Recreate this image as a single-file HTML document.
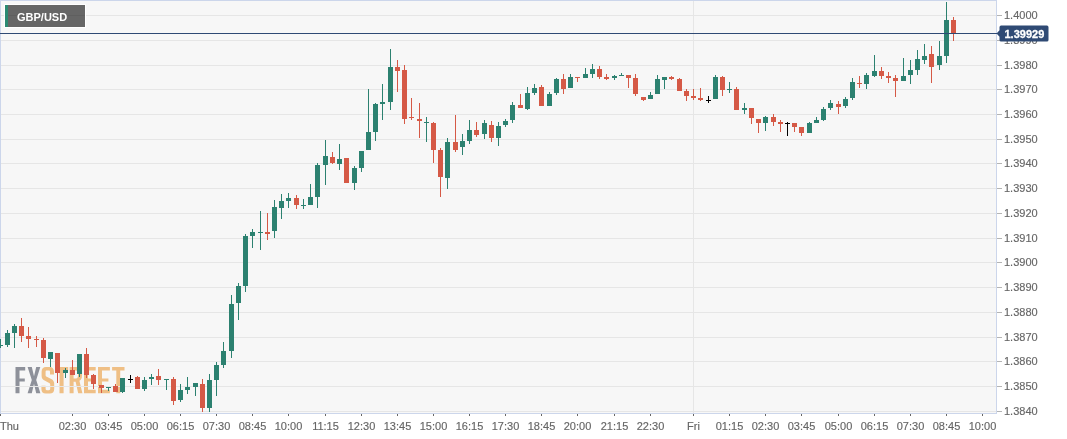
<!DOCTYPE html>
<html><head><meta charset="utf-8"><style>
html,body{margin:0;padding:0;background:#fff;width:1067px;height:439px;overflow:hidden}
svg{display:block}
text{font-family:"Liberation Sans",sans-serif}
svg{will-change:transform}
</style></head><body>
<svg width="1067" height="439" viewBox="0 0 1067 439" shape-rendering="crispEdges"><rect x="0" y="0" width="1067" height="439" fill="#ffffff"/><rect x="0" y="0" width="997" height="414" fill="#f7f7f7"/><path d="M15.5 367 H25.2 V370.5 H19.5 V378.5 H24.8 V381.6 H19.5 V393.2 H15.5 Z" fill="#8e919a" shape-rendering="geometricPrecision"/><path d="M27.6 367 H31.8 L34 376.2 L36.2 367 H40.3 L36.2 380 L40.4 393.2 H36.2 L34 383.8 L31.8 393.2 H27.6 L31.8 380 Z" fill="#8e919a" shape-rendering="geometricPrecision"/><path d="M54 374.6 V371.8 C54 368.6 52.4 367 49.6 367 H46 C43.2 367 41.6 368.6 41.6 371.8 V376 C41.6 378 42.6 379.6 44.6 380.6 L49.6 383.2 C50 383.4 50.2 383.8 50.2 384.4 V388.6 C50.2 389.6 49.8 390.2 48.9 390.2 H46.9 C46 390.2 45.6 389.6 45.6 388.6 V385.8 H41.4 V389 C41.4 392 43 393.6 45.8 393.6 H49.8 C52.6 393.6 54.2 392 54.2 389 V383.6 C54.2 381.6 53.2 380 51.2 379 L46.2 376.4 C45.8 376.2 45.6 375.8 45.6 375.2 V371.8 C45.6 370.8 46 370.4 46.9 370.4 H48.7 C49.6 370.4 50 370.8 50 371.8 V374.6 Z" fill="#efbf85" shape-rendering="geometricPrecision"/><path d="M55.3 367 H68.2 V370.5 H63.6 V393.2 H59.5 V370.5 H55.3 Z" fill="#efbf85" shape-rendering="geometricPrecision"/><path d="M69.6 367 H76.5 C80.6 367 82 369 82 373.4 V375.6 C82 378.4 81.2 380 79.4 380.8 L82.4 393.2 H78.2 L75.6 381.8 H73.6 V393.2 H69.6 Z M73.6 370.5 V378.4 H75.8 C77.4 378.4 78 377.6 78 375.6 V373.2 C78 371.2 77.4 370.5 75.8 370.5 Z" fill="#efbf85" shape-rendering="geometricPrecision"/><path d="M84 367 H95.7 V370.5 H88 V378.6 H95 V381.6 H88 V389.8 H95.7 V393.2 H84 Z" fill="#efbf85" shape-rendering="geometricPrecision"/><path d="M98 367 H109.9 V370.5 H102 V378.6 H108.4 V381.6 H102 V389.8 H109.9 V393.2 H98 Z" fill="#efbf85" shape-rendering="geometricPrecision"/><path d="M112.1 367 H124.5 V370.5 H120.2 V393.2 H116.3 V370.5 H112.1 Z" fill="#efbf85" shape-rendering="geometricPrecision"/><rect x="1" y="15" width="995" height="1" fill="#e6e6e6"/><rect x="1" y="40" width="995" height="1" fill="#e6e6e6"/><rect x="1" y="65" width="995" height="1" fill="#e6e6e6"/><rect x="1" y="89" width="995" height="1" fill="#e6e6e6"/><rect x="1" y="114" width="995" height="1" fill="#e6e6e6"/><rect x="1" y="139" width="995" height="1" fill="#e6e6e6"/><rect x="1" y="163" width="995" height="1" fill="#e6e6e6"/><rect x="1" y="188" width="995" height="1" fill="#e6e6e6"/><rect x="1" y="213" width="995" height="1" fill="#e6e6e6"/><rect x="1" y="238" width="995" height="1" fill="#e6e6e6"/><rect x="1" y="262" width="995" height="1" fill="#e6e6e6"/><rect x="1" y="287" width="995" height="1" fill="#e6e6e6"/><rect x="1" y="312" width="995" height="1" fill="#e6e6e6"/><rect x="1" y="337" width="995" height="1" fill="#e6e6e6"/><rect x="1" y="361" width="995" height="1" fill="#e6e6e6"/><rect x="1" y="386" width="995" height="1" fill="#e6e6e6"/><rect x="1" y="411" width="995" height="1" fill="#e6e6e6"/><rect x="693" y="1" width="1" height="412" fill="#e6e6e6"/><rect x="0" y="0" width="997" height="1" fill="#ccd6eb"/><rect x="0" y="0" width="1" height="414" fill="#ccd6eb"/><rect x="996" y="0" width="1" height="414" fill="#ccd6eb"/><rect x="0" y="413" width="997" height="1" fill="#ccd6eb"/><rect x="0" y="339" width="1" height="9" fill="#2c8170"/><rect x="1" y="345" width="2" height="1" fill="#2c8170"/><rect x="7" y="330" width="1" height="17" fill="#2c8170"/><rect x="5" y="333" width="5" height="12" fill="#2c8170"/><rect x="14" y="324" width="1" height="24" fill="#2c8170"/><rect x="12" y="326" width="5" height="7" fill="#2c8170"/><rect x="21" y="318" width="1" height="24" fill="#d55946"/><rect x="19" y="326" width="5" height="10" fill="#d55946"/><rect x="28" y="327" width="1" height="21" fill="#d55946"/><rect x="26" y="336" width="5" height="3" fill="#d55946"/><rect x="36" y="336" width="1" height="11" fill="#d55946"/><rect x="34" y="339" width="5" height="1" fill="#d55946"/><rect x="43" y="338" width="1" height="25" fill="#d55946"/><rect x="41" y="340" width="5" height="18" fill="#d55946"/><rect x="50" y="352" width="1" height="15" fill="#2c8170"/><rect x="48" y="352" width="5" height="7" fill="#2c8170"/><rect x="57" y="353" width="1" height="30" fill="#d55946"/><rect x="55" y="353" width="5" height="20" fill="#d55946"/><rect x="65" y="368" width="1" height="10" fill="#2c8170"/><rect x="63" y="370" width="5" height="3" fill="#2c8170"/><rect x="72" y="360" width="1" height="15" fill="#d55946"/><rect x="70" y="370" width="5" height="5" fill="#d55946"/><rect x="79" y="354" width="1" height="23" fill="#2c8170"/><rect x="77" y="354" width="5" height="20" fill="#2c8170"/><rect x="86" y="348" width="1" height="30" fill="#d55946"/><rect x="84" y="354" width="5" height="21" fill="#d55946"/><rect x="93" y="374" width="1" height="15" fill="#d55946"/><rect x="91" y="375" width="5" height="9" fill="#d55946"/><rect x="101" y="385" width="1" height="8" fill="#d55946"/><rect x="99" y="385" width="5" height="3" fill="#d55946"/><rect x="108" y="387" width="1" height="4" fill="#2c8170"/><rect x="106" y="387" width="5" height="1" fill="#2c8170"/><rect x="115" y="384" width="1" height="8" fill="#d55946"/><rect x="113" y="386" width="5" height="6" fill="#d55946"/><rect x="122" y="378" width="1" height="15" fill="#2c8170"/><rect x="120" y="378" width="5" height="14" fill="#2c8170"/><rect x="130" y="375" width="1" height="8" fill="#000000"/><rect x="128" y="379" width="5" height="1" fill="#000000"/><rect x="137" y="376" width="1" height="13" fill="#d55946"/><rect x="135" y="377" width="5" height="12" fill="#d55946"/><rect x="144" y="377" width="1" height="14" fill="#2c8170"/><rect x="142" y="380" width="5" height="9" fill="#2c8170"/><rect x="151" y="374" width="1" height="11" fill="#2c8170"/><rect x="149" y="377" width="5" height="2" fill="#2c8170"/><rect x="158" y="369" width="1" height="16" fill="#d55946"/><rect x="156" y="376" width="5" height="4" fill="#d55946"/><rect x="166" y="379" width="1" height="11" fill="#2c8170"/><rect x="164" y="379" width="5" height="1" fill="#2c8170"/><rect x="173" y="377" width="1" height="28" fill="#d55946"/><rect x="171" y="379" width="5" height="22" fill="#d55946"/><rect x="180" y="384" width="1" height="18" fill="#2c8170"/><rect x="178" y="390" width="5" height="10" fill="#2c8170"/><rect x="187" y="377" width="1" height="17" fill="#2c8170"/><rect x="185" y="387" width="5" height="3" fill="#2c8170"/><rect x="195" y="383" width="1" height="13" fill="#2c8170"/><rect x="193" y="383" width="5" height="4" fill="#2c8170"/><rect x="202" y="379" width="1" height="33" fill="#d55946"/><rect x="200" y="384" width="5" height="24" fill="#d55946"/><rect x="209" y="374" width="1" height="38" fill="#2c8170"/><rect x="207" y="380" width="5" height="28" fill="#2c8170"/><rect x="216" y="362" width="1" height="34" fill="#2c8170"/><rect x="214" y="365" width="5" height="15" fill="#2c8170"/><rect x="223" y="342" width="1" height="26" fill="#2c8170"/><rect x="221" y="351" width="5" height="14" fill="#2c8170"/><rect x="231" y="295" width="1" height="63" fill="#2c8170"/><rect x="229" y="304" width="5" height="47" fill="#2c8170"/><rect x="238" y="283" width="1" height="37" fill="#2c8170"/><rect x="236" y="286" width="5" height="17" fill="#2c8170"/><rect x="245" y="234" width="1" height="58" fill="#2c8170"/><rect x="243" y="236" width="5" height="50" fill="#2c8170"/><rect x="252" y="229" width="1" height="19" fill="#2c8170"/><rect x="250" y="232" width="5" height="4" fill="#2c8170"/><rect x="260" y="211" width="1" height="39" fill="#2c8170"/><rect x="258" y="232" width="5" height="1" fill="#2c8170"/><rect x="267" y="213" width="1" height="27" fill="#d55946"/><rect x="265" y="232" width="5" height="2" fill="#d55946"/><rect x="274" y="200" width="1" height="38" fill="#2c8170"/><rect x="272" y="207" width="5" height="24" fill="#2c8170"/><rect x="281" y="194" width="1" height="25" fill="#2c8170"/><rect x="279" y="201" width="5" height="7" fill="#2c8170"/><rect x="288" y="193" width="1" height="15" fill="#2c8170"/><rect x="286" y="198" width="5" height="3" fill="#2c8170"/><rect x="296" y="195" width="1" height="14" fill="#d55946"/><rect x="294" y="198" width="5" height="7" fill="#d55946"/><rect x="303" y="199" width="1" height="10" fill="#2c8170"/><rect x="301" y="205" width="5" height="1" fill="#2c8170"/><rect x="310" y="184" width="1" height="21" fill="#2c8170"/><rect x="308" y="197" width="5" height="8" fill="#2c8170"/><rect x="317" y="163" width="1" height="45" fill="#2c8170"/><rect x="315" y="165" width="5" height="32" fill="#2c8170"/><rect x="325" y="140" width="1" height="45" fill="#2c8170"/><rect x="323" y="156" width="5" height="9" fill="#2c8170"/><rect x="332" y="152" width="1" height="12" fill="#d55946"/><rect x="330" y="157" width="5" height="6" fill="#d55946"/><rect x="339" y="144" width="1" height="26" fill="#2c8170"/><rect x="337" y="159" width="5" height="5" fill="#2c8170"/><rect x="346" y="158" width="1" height="25" fill="#d55946"/><rect x="344" y="158" width="5" height="25" fill="#d55946"/><rect x="354" y="166" width="1" height="24" fill="#2c8170"/><rect x="352" y="168" width="5" height="15" fill="#2c8170"/><rect x="361" y="151" width="1" height="21" fill="#2c8170"/><rect x="359" y="151" width="5" height="17" fill="#2c8170"/><rect x="368" y="89" width="1" height="61" fill="#2c8170"/><rect x="366" y="132" width="5" height="18" fill="#2c8170"/><rect x="375" y="103" width="1" height="38" fill="#2c8170"/><rect x="373" y="104" width="5" height="28" fill="#2c8170"/><rect x="382" y="84" width="1" height="36" fill="#2c8170"/><rect x="380" y="102" width="5" height="2" fill="#2c8170"/><rect x="390" y="49" width="1" height="61" fill="#2c8170"/><rect x="388" y="67" width="5" height="35" fill="#2c8170"/><rect x="397" y="60" width="1" height="32" fill="#d55946"/><rect x="395" y="67" width="5" height="4" fill="#d55946"/><rect x="404" y="65" width="1" height="59" fill="#d55946"/><rect x="402" y="70" width="5" height="49" fill="#d55946"/><rect x="411" y="98" width="1" height="22" fill="#d55946"/><rect x="409" y="117" width="5" height="1" fill="#d55946"/><rect x="419" y="103" width="1" height="35" fill="#d55946"/><rect x="417" y="119" width="5" height="2" fill="#d55946"/><rect x="426" y="117" width="1" height="25" fill="#2c8170"/><rect x="424" y="122" width="5" height="1" fill="#2c8170"/><rect x="433" y="122" width="1" height="41" fill="#d55946"/><rect x="431" y="123" width="5" height="27" fill="#d55946"/><rect x="440" y="148" width="1" height="49" fill="#d55946"/><rect x="438" y="150" width="5" height="27" fill="#d55946"/><rect x="447" y="138" width="1" height="51" fill="#2c8170"/><rect x="445" y="142" width="5" height="36" fill="#2c8170"/><rect x="455" y="115" width="1" height="37" fill="#d55946"/><rect x="453" y="142" width="5" height="8" fill="#d55946"/><rect x="462" y="134" width="1" height="21" fill="#2c8170"/><rect x="460" y="141" width="5" height="6" fill="#2c8170"/><rect x="469" y="120" width="1" height="24" fill="#2c8170"/><rect x="467" y="130" width="5" height="11" fill="#2c8170"/><rect x="476" y="122" width="1" height="15" fill="#d55946"/><rect x="474" y="130" width="5" height="5" fill="#d55946"/><rect x="484" y="120" width="1" height="19" fill="#2c8170"/><rect x="482" y="123" width="5" height="11" fill="#2c8170"/><rect x="491" y="121" width="1" height="21" fill="#d55946"/><rect x="489" y="125" width="5" height="13" fill="#d55946"/><rect x="498" y="122" width="1" height="24" fill="#2c8170"/><rect x="496" y="126" width="5" height="12" fill="#2c8170"/><rect x="505" y="119" width="1" height="8" fill="#2c8170"/><rect x="503" y="121" width="5" height="4" fill="#2c8170"/><rect x="512" y="102" width="1" height="21" fill="#2c8170"/><rect x="510" y="105" width="5" height="15" fill="#2c8170"/><rect x="520" y="94" width="1" height="14" fill="#d55946"/><rect x="518" y="105" width="5" height="3" fill="#d55946"/><rect x="527" y="87" width="1" height="23" fill="#2c8170"/><rect x="525" y="93" width="5" height="16" fill="#2c8170"/><rect x="534" y="84" width="1" height="11" fill="#2c8170"/><rect x="532" y="88" width="5" height="5" fill="#2c8170"/><rect x="541" y="85" width="1" height="21" fill="#d55946"/><rect x="539" y="87" width="5" height="19" fill="#d55946"/><rect x="549" y="92" width="1" height="14" fill="#2c8170"/><rect x="547" y="94" width="5" height="12" fill="#2c8170"/><rect x="556" y="78" width="1" height="17" fill="#2c8170"/><rect x="554" y="79" width="5" height="14" fill="#2c8170"/><rect x="563" y="74" width="1" height="20" fill="#d55946"/><rect x="561" y="79" width="5" height="10" fill="#d55946"/><rect x="570" y="74" width="1" height="14" fill="#2c8170"/><rect x="568" y="77" width="5" height="11" fill="#2c8170"/><rect x="577" y="77" width="1" height="5" fill="#d55946"/><rect x="575" y="77" width="5" height="1" fill="#d55946"/><rect x="585" y="68" width="1" height="10" fill="#2c8170"/><rect x="583" y="74" width="5" height="4" fill="#2c8170"/><rect x="592" y="64" width="1" height="14" fill="#2c8170"/><rect x="590" y="69" width="5" height="5" fill="#2c8170"/><rect x="599" y="66" width="1" height="13" fill="#d55946"/><rect x="597" y="69" width="5" height="8" fill="#d55946"/><rect x="606" y="74" width="1" height="6" fill="#d55946"/><rect x="604" y="77" width="5" height="2" fill="#d55946"/><rect x="614" y="75" width="1" height="5" fill="#2c8170"/><rect x="612" y="76" width="5" height="2" fill="#2c8170"/><rect x="621" y="73" width="1" height="3" fill="#2c8170"/><rect x="619" y="75" width="5" height="1" fill="#2c8170"/><rect x="628" y="75" width="1" height="13" fill="#d55946"/><rect x="626" y="75" width="5" height="3" fill="#d55946"/><rect x="635" y="74" width="1" height="22" fill="#d55946"/><rect x="633" y="78" width="5" height="16" fill="#d55946"/><rect x="643" y="97" width="1" height="4" fill="#d55946"/><rect x="641" y="97" width="5" height="3" fill="#d55946"/><rect x="650" y="92" width="1" height="7" fill="#2c8170"/><rect x="648" y="95" width="5" height="4" fill="#2c8170"/><rect x="657" y="75" width="1" height="19" fill="#2c8170"/><rect x="655" y="79" width="5" height="15" fill="#2c8170"/><rect x="664" y="77" width="1" height="12" fill="#2c8170"/><rect x="662" y="77" width="5" height="3" fill="#2c8170"/><rect x="671" y="76" width="1" height="4" fill="#d55946"/><rect x="669" y="77" width="5" height="2" fill="#d55946"/><rect x="679" y="78" width="1" height="13" fill="#d55946"/><rect x="677" y="79" width="5" height="12" fill="#d55946"/><rect x="686" y="89" width="1" height="12" fill="#d55946"/><rect x="684" y="91" width="5" height="5" fill="#d55946"/><rect x="693" y="89" width="1" height="11" fill="#d55946"/><rect x="691" y="96" width="5" height="2" fill="#d55946"/><rect x="700" y="88" width="1" height="13" fill="#d55946"/><rect x="698" y="98" width="5" height="2" fill="#d55946"/><rect x="708" y="96" width="1" height="7" fill="#000000"/><rect x="706" y="100" width="5" height="1" fill="#000000"/><rect x="715" y="75" width="1" height="24" fill="#2c8170"/><rect x="713" y="77" width="5" height="22" fill="#2c8170"/><rect x="722" y="76" width="1" height="20" fill="#d55946"/><rect x="720" y="77" width="5" height="13" fill="#d55946"/><rect x="729" y="82" width="1" height="11" fill="#2c8170"/><rect x="727" y="89" width="5" height="1" fill="#2c8170"/><rect x="736" y="87" width="1" height="23" fill="#d55946"/><rect x="734" y="89" width="5" height="21" fill="#d55946"/><rect x="744" y="103" width="1" height="11" fill="#2c8170"/><rect x="742" y="108" width="5" height="2" fill="#2c8170"/><rect x="751" y="108" width="1" height="16" fill="#d55946"/><rect x="749" y="108" width="5" height="10" fill="#d55946"/><rect x="758" y="119" width="1" height="14" fill="#d55946"/><rect x="756" y="119" width="5" height="4" fill="#d55946"/><rect x="765" y="116" width="1" height="15" fill="#2c8170"/><rect x="763" y="117" width="5" height="6" fill="#2c8170"/><rect x="773" y="114" width="1" height="12" fill="#d55946"/><rect x="771" y="117" width="5" height="5" fill="#d55946"/><rect x="780" y="120" width="1" height="12" fill="#d55946"/><rect x="778" y="122" width="5" height="2" fill="#d55946"/><rect x="787" y="122" width="1" height="14" fill="#000000"/><rect x="785" y="123" width="5" height="1" fill="#000000"/><rect x="794" y="123" width="1" height="9" fill="#d55946"/><rect x="792" y="123" width="5" height="4" fill="#d55946"/><rect x="801" y="127" width="1" height="9" fill="#d55946"/><rect x="799" y="127" width="5" height="6" fill="#d55946"/><rect x="809" y="122" width="1" height="11" fill="#2c8170"/><rect x="807" y="123" width="5" height="10" fill="#2c8170"/><rect x="816" y="117" width="1" height="6" fill="#2c8170"/><rect x="814" y="120" width="5" height="3" fill="#2c8170"/><rect x="823" y="107" width="1" height="14" fill="#2c8170"/><rect x="821" y="109" width="5" height="11" fill="#2c8170"/><rect x="830" y="100" width="1" height="10" fill="#2c8170"/><rect x="828" y="103" width="5" height="5" fill="#2c8170"/><rect x="838" y="101" width="1" height="13" fill="#d55946"/><rect x="836" y="104" width="5" height="3" fill="#d55946"/><rect x="845" y="97" width="1" height="11" fill="#2c8170"/><rect x="843" y="99" width="5" height="7" fill="#2c8170"/><rect x="852" y="78" width="1" height="22" fill="#2c8170"/><rect x="850" y="82" width="5" height="16" fill="#2c8170"/><rect x="859" y="76" width="1" height="12" fill="#d55946"/><rect x="857" y="83" width="5" height="1" fill="#d55946"/><rect x="866" y="73" width="1" height="16" fill="#2c8170"/><rect x="864" y="75" width="5" height="9" fill="#2c8170"/><rect x="874" y="55" width="1" height="22" fill="#2c8170"/><rect x="872" y="71" width="5" height="5" fill="#2c8170"/><rect x="881" y="67" width="1" height="12" fill="#d55946"/><rect x="879" y="71" width="5" height="5" fill="#d55946"/><rect x="888" y="72" width="1" height="11" fill="#d55946"/><rect x="886" y="76" width="5" height="2" fill="#d55946"/><rect x="895" y="75" width="1" height="22" fill="#d55946"/><rect x="893" y="78" width="5" height="3" fill="#d55946"/><rect x="903" y="58" width="1" height="23" fill="#2c8170"/><rect x="901" y="76" width="5" height="5" fill="#2c8170"/><rect x="910" y="60" width="1" height="24" fill="#2c8170"/><rect x="908" y="70" width="5" height="5" fill="#2c8170"/><rect x="917" y="50" width="1" height="25" fill="#2c8170"/><rect x="915" y="59" width="5" height="11" fill="#2c8170"/><rect x="924" y="44" width="1" height="20" fill="#2c8170"/><rect x="922" y="56" width="5" height="4" fill="#2c8170"/><rect x="931" y="46" width="1" height="37" fill="#d55946"/><rect x="929" y="54" width="5" height="13" fill="#d55946"/><rect x="939" y="41" width="1" height="29" fill="#2c8170"/><rect x="937" y="56" width="5" height="9" fill="#2c8170"/><rect x="946" y="2" width="1" height="61" fill="#2c8170"/><rect x="944" y="20" width="5" height="36" fill="#2c8170"/><rect x="953" y="17" width="1" height="24" fill="#d55946"/><rect x="951" y="20" width="5" height="13" fill="#d55946"/><rect x="4" y="4" width="82" height="24" fill="#ffffff"/><rect x="5" y="5" width="80" height="22" fill="#666666"/><rect x="5" y="5" width="3" height="22" fill="#2b8a72"/><rect x="8" y="15" width="77" height="1" fill="#5f5f5f"/><text x="17" y="21" font-family="Liberation Sans" font-weight="bold" font-size="11" fill="#ffffff">GBP/USD</text><rect x="0" y="33" width="997" height="1" fill="#2f4a74"/><rect x="997" y="15" width="5" height="1" fill="#b4b4b4"/><text x="1004" y="19" font-family="Liberation Sans" font-size="11" fill="#666666" stroke="#666666" stroke-width="0.15">1.4000</text><rect x="997" y="40" width="5" height="1" fill="#b4b4b4"/><text x="1004" y="44" font-family="Liberation Sans" font-size="11" fill="#666666" stroke="#666666" stroke-width="0.15">1.3990</text><rect x="997" y="65" width="5" height="1" fill="#b4b4b4"/><text x="1004" y="69" font-family="Liberation Sans" font-size="11" fill="#666666" stroke="#666666" stroke-width="0.15">1.3980</text><rect x="997" y="89" width="5" height="1" fill="#b4b4b4"/><text x="1004" y="93" font-family="Liberation Sans" font-size="11" fill="#666666" stroke="#666666" stroke-width="0.15">1.3970</text><rect x="997" y="114" width="5" height="1" fill="#b4b4b4"/><text x="1004" y="118" font-family="Liberation Sans" font-size="11" fill="#666666" stroke="#666666" stroke-width="0.15">1.3960</text><rect x="997" y="139" width="5" height="1" fill="#b4b4b4"/><text x="1004" y="143" font-family="Liberation Sans" font-size="11" fill="#666666" stroke="#666666" stroke-width="0.15">1.3950</text><rect x="997" y="163" width="5" height="1" fill="#b4b4b4"/><text x="1004" y="167" font-family="Liberation Sans" font-size="11" fill="#666666" stroke="#666666" stroke-width="0.15">1.3940</text><rect x="997" y="188" width="5" height="1" fill="#b4b4b4"/><text x="1004" y="192" font-family="Liberation Sans" font-size="11" fill="#666666" stroke="#666666" stroke-width="0.15">1.3930</text><rect x="997" y="213" width="5" height="1" fill="#b4b4b4"/><text x="1004" y="217" font-family="Liberation Sans" font-size="11" fill="#666666" stroke="#666666" stroke-width="0.15">1.3920</text><rect x="997" y="238" width="5" height="1" fill="#b4b4b4"/><text x="1004" y="242" font-family="Liberation Sans" font-size="11" fill="#666666" stroke="#666666" stroke-width="0.15">1.3910</text><rect x="997" y="262" width="5" height="1" fill="#b4b4b4"/><text x="1004" y="266" font-family="Liberation Sans" font-size="11" fill="#666666" stroke="#666666" stroke-width="0.15">1.3900</text><rect x="997" y="287" width="5" height="1" fill="#b4b4b4"/><text x="1004" y="291" font-family="Liberation Sans" font-size="11" fill="#666666" stroke="#666666" stroke-width="0.15">1.3890</text><rect x="997" y="312" width="5" height="1" fill="#b4b4b4"/><text x="1004" y="316" font-family="Liberation Sans" font-size="11" fill="#666666" stroke="#666666" stroke-width="0.15">1.3880</text><rect x="997" y="337" width="5" height="1" fill="#b4b4b4"/><text x="1004" y="341" font-family="Liberation Sans" font-size="11" fill="#666666" stroke="#666666" stroke-width="0.15">1.3870</text><rect x="997" y="361" width="5" height="1" fill="#b4b4b4"/><text x="1004" y="365" font-family="Liberation Sans" font-size="11" fill="#666666" stroke="#666666" stroke-width="0.15">1.3860</text><rect x="997" y="386" width="5" height="1" fill="#b4b4b4"/><text x="1004" y="390" font-family="Liberation Sans" font-size="11" fill="#666666" stroke="#666666" stroke-width="0.15">1.3850</text><rect x="997" y="411" width="5" height="1" fill="#b4b4b4"/><text x="1004" y="415" font-family="Liberation Sans" font-size="11" fill="#666666" stroke="#666666" stroke-width="0.15">1.3840</text><path d="M999.5 27.2 Q999.5 25.6 1001.1 25.6 H1046.9 Q1048.5 25.6 1048.5 27.2 V39.9 Q1048.5 41.5 1046.9 41.5 H1001.1 Q999.5 41.5 999.5 39.9 V36.8 L996.6 33.5 L999.5 30.2 Z" fill="#2f4a74" shape-rendering="geometricPrecision"/><text x="1004.5" y="38" font-family="Liberation Sans" font-weight="bold" font-size="11" fill="#ffffff" stroke="#ffffff" stroke-width="0.3">1.39929</text><rect x="0" y="414" width="1" height="2" fill="#666666"/><text x="0" y="430" font-family="Liberation Sans" font-size="11" fill="#666666" stroke="#666666" stroke-width="0.15">Thu</text><rect x="72" y="414" width="1" height="2" fill="#666666"/><text x="72.5" y="430" text-anchor="middle" font-family="Liberation Sans" font-size="11" fill="#666666" stroke="#666666" stroke-width="0.15">02:30</text><rect x="108" y="414" width="1" height="2" fill="#666666"/><text x="108.5" y="430" text-anchor="middle" font-family="Liberation Sans" font-size="11" fill="#666666" stroke="#666666" stroke-width="0.15">03:45</text><rect x="144" y="414" width="1" height="2" fill="#666666"/><text x="144.5" y="430" text-anchor="middle" font-family="Liberation Sans" font-size="11" fill="#666666" stroke="#666666" stroke-width="0.15">05:00</text><rect x="180" y="414" width="1" height="2" fill="#666666"/><text x="180.5" y="430" text-anchor="middle" font-family="Liberation Sans" font-size="11" fill="#666666" stroke="#666666" stroke-width="0.15">06:15</text><rect x="216" y="414" width="1" height="2" fill="#666666"/><text x="216.5" y="430" text-anchor="middle" font-family="Liberation Sans" font-size="11" fill="#666666" stroke="#666666" stroke-width="0.15">07:30</text><rect x="252" y="414" width="1" height="2" fill="#666666"/><text x="252.5" y="430" text-anchor="middle" font-family="Liberation Sans" font-size="11" fill="#666666" stroke="#666666" stroke-width="0.15">08:45</text><rect x="288" y="414" width="1" height="2" fill="#666666"/><text x="288.5" y="430" text-anchor="middle" font-family="Liberation Sans" font-size="11" fill="#666666" stroke="#666666" stroke-width="0.15">10:00</text><rect x="325" y="414" width="1" height="2" fill="#666666"/><text x="325.5" y="430" text-anchor="middle" font-family="Liberation Sans" font-size="11" fill="#666666" stroke="#666666" stroke-width="0.15">11:15</text><rect x="361" y="414" width="1" height="2" fill="#666666"/><text x="361.5" y="430" text-anchor="middle" font-family="Liberation Sans" font-size="11" fill="#666666" stroke="#666666" stroke-width="0.15">12:30</text><rect x="397" y="414" width="1" height="2" fill="#666666"/><text x="397.5" y="430" text-anchor="middle" font-family="Liberation Sans" font-size="11" fill="#666666" stroke="#666666" stroke-width="0.15">13:45</text><rect x="433" y="414" width="1" height="2" fill="#666666"/><text x="433.5" y="430" text-anchor="middle" font-family="Liberation Sans" font-size="11" fill="#666666" stroke="#666666" stroke-width="0.15">15:00</text><rect x="469" y="414" width="1" height="2" fill="#666666"/><text x="469.5" y="430" text-anchor="middle" font-family="Liberation Sans" font-size="11" fill="#666666" stroke="#666666" stroke-width="0.15">16:15</text><rect x="505" y="414" width="1" height="2" fill="#666666"/><text x="505.5" y="430" text-anchor="middle" font-family="Liberation Sans" font-size="11" fill="#666666" stroke="#666666" stroke-width="0.15">17:30</text><rect x="541" y="414" width="1" height="2" fill="#666666"/><text x="541.5" y="430" text-anchor="middle" font-family="Liberation Sans" font-size="11" fill="#666666" stroke="#666666" stroke-width="0.15">18:45</text><rect x="577" y="414" width="1" height="2" fill="#666666"/><text x="577.5" y="430" text-anchor="middle" font-family="Liberation Sans" font-size="11" fill="#666666" stroke="#666666" stroke-width="0.15">20:00</text><rect x="614" y="414" width="1" height="2" fill="#666666"/><text x="614.5" y="430" text-anchor="middle" font-family="Liberation Sans" font-size="11" fill="#666666" stroke="#666666" stroke-width="0.15">21:15</text><rect x="650" y="414" width="1" height="2" fill="#666666"/><text x="650.5" y="430" text-anchor="middle" font-family="Liberation Sans" font-size="11" fill="#666666" stroke="#666666" stroke-width="0.15">22:30</text><rect x="693" y="414" width="1" height="2" fill="#666666"/><text x="693.5" y="430" text-anchor="middle" font-family="Liberation Sans" font-size="11" fill="#666666" stroke="#666666" stroke-width="0.15">Fri</text><rect x="729" y="414" width="1" height="2" fill="#666666"/><text x="729.5" y="430" text-anchor="middle" font-family="Liberation Sans" font-size="11" fill="#666666" stroke="#666666" stroke-width="0.15">01:15</text><rect x="765" y="414" width="1" height="2" fill="#666666"/><text x="765.5" y="430" text-anchor="middle" font-family="Liberation Sans" font-size="11" fill="#666666" stroke="#666666" stroke-width="0.15">02:30</text><rect x="801" y="414" width="1" height="2" fill="#666666"/><text x="801.5" y="430" text-anchor="middle" font-family="Liberation Sans" font-size="11" fill="#666666" stroke="#666666" stroke-width="0.15">03:45</text><rect x="838" y="414" width="1" height="2" fill="#666666"/><text x="838.5" y="430" text-anchor="middle" font-family="Liberation Sans" font-size="11" fill="#666666" stroke="#666666" stroke-width="0.15">05:00</text><rect x="874" y="414" width="1" height="2" fill="#666666"/><text x="874.5" y="430" text-anchor="middle" font-family="Liberation Sans" font-size="11" fill="#666666" stroke="#666666" stroke-width="0.15">06:15</text><rect x="910" y="414" width="1" height="2" fill="#666666"/><text x="910.5" y="430" text-anchor="middle" font-family="Liberation Sans" font-size="11" fill="#666666" stroke="#666666" stroke-width="0.15">07:30</text><rect x="946" y="414" width="1" height="2" fill="#666666"/><text x="946.5" y="430" text-anchor="middle" font-family="Liberation Sans" font-size="11" fill="#666666" stroke="#666666" stroke-width="0.15">08:45</text><rect x="982" y="414" width="1" height="2" fill="#666666"/><text x="982.5" y="430" text-anchor="middle" font-family="Liberation Sans" font-size="11" fill="#666666" stroke="#666666" stroke-width="0.15">10:00</text></svg>
</body></html>
